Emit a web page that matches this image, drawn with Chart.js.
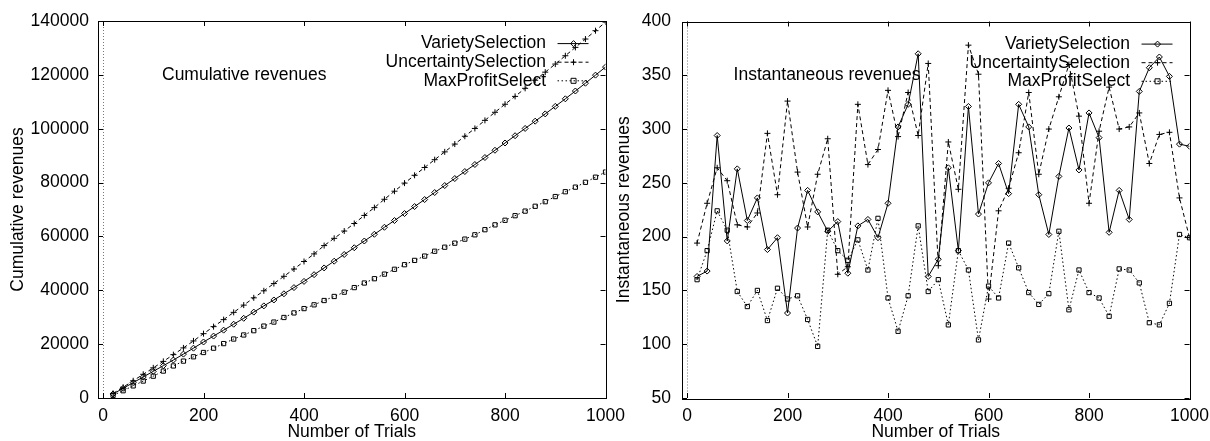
<!DOCTYPE html>
<html>
<head>
<meta charset="utf-8">
<script src="https://cdn.jsdelivr.net/npm/chart.js@4.4.0/dist/chart.umd.min.js"></script>
<style>
body { margin: 0; background: #fff; }
#wrap { position: relative; width: 1210px; height: 441px; overflow: hidden; }
#leftBox { position: absolute; left: 0; top: 0; width: 633px; height: 441px; }
#rightBox { position: absolute; left: 610px; top: 0; width: 607px; height: 441px; }
</style>
</head>
<body>
<div id="wrap">
  <div id="leftBox"><canvas id="leftChart" width="633" height="441"></canvas></div>
  <div id="rightBox"><canvas id="rightChart" width="607" height="441"></canvas></div>
</div>
<script>
// number of trials (x values of every point)
var trials = [20, 40, 60, 80, 100, 120, 140, 160, 180, 200,
              220, 240, 260, 280, 300, 320, 340, 360, 380, 400,
              420, 440, 460, 480, 500, 520, 540, 560, 580, 600,
              620, 640, 660, 680, 700, 720, 740, 760, 780, 800,
              820, 840, 860, 880, 900, 920, 940, 960, 980, 1000];

var trialTicks = [0, 200, 400, 600, 800, 1000];
var cumTicks = [0, 20000, 40000, 60000, 80000, 100000, 120000, 140000];
var instTicks = [50, 100, 150, 200, 250, 300, 350, 400];

var seriesNames = ['VarietySelection', 'UncertaintySelection', 'MaxProfitSelect'];

// cumulative revenues
var cumVariety = [1500, 3600, 5700, 7800, 9900, 12000, 14100, 16300, 18500, 20800,
                  23000, 25200, 27400, 29600, 31900, 34200, 36400, 38700, 41000, 43300,
                  45800, 48300, 50800, 53300, 55800, 58300, 60800, 63400, 65900, 68500,
                  71100, 73700, 76300, 78900, 81500, 84100, 86700, 89300, 92000, 94700,
                  97400, 100100, 102800, 105500, 108300, 111100, 114000, 116900, 119900, 122900];
var cumUncertainty = [1700, 4000, 6400, 8800, 11200, 13600, 16100, 18600, 21200, 23900,
                      26500, 29100, 31800, 34500, 37200, 39800, 42500, 45200, 47900, 50700,
                      53500, 56600, 59300, 62000, 64800, 67800, 70700, 73800, 76800, 79800,
                      82700, 85600, 88500, 91400, 94300, 97200, 100100, 103100, 106100, 109100,
                      112000, 115000, 118000, 121000, 124000, 127100, 130200, 133300, 136400, 139600];
var cumMaxProfit = [1000, 2700, 4500, 6300, 8100, 10000, 11900, 13700, 15300, 16900,
                    18500, 20200, 21900, 23400, 25000, 26700, 28200, 29900, 31600, 33200,
                    34600, 36200, 37700, 39300, 41000, 42700, 44300, 46000, 47800, 49500,
                    51100, 52700, 54500, 56000, 57500, 59000, 60600, 62500, 64300, 66000,
                    67700, 69400, 71200, 72900, 74800, 76600, 78300, 80100, 82000, 83900];

// instantaneous revenues
var instVariety = [163, 168, 294, 196, 263, 215, 236, 188, 199, 129,
                   208, 243, 223, 205, 214, 166, 210, 216, 199, 231,
                   302, 323, 370, 163, 179, 264, 187, 321, 221, 250,
                   268, 240, 323, 302, 239, 202, 256, 301, 262, 315,
                   292, 204, 243, 216, 335, 357, 367, 349, 286, 284];
var instUncertainty = [194, 231, 264, 252, 211, 209, 222, 296, 239, 326,
                       260, 209, 258, 291, 165, 172, 323, 267, 281, 336,
                       293, 334, 294, 361, 173, 288, 244, 378, 351, 142,
                       224, 245, 278, 334, 258, 300, 330, 360, 312, 231,
                       298, 339, 300, 302, 315, 268, 295, 297, 236, 199];
var instMaxProfit = [160, 187, 224, 206, 149, 135, 150, 122, 152, 142,
                     145, 123, 98, 206, 187, 178, 197, 169, 217, 143,
                     112, 145, 210, 149, 160, 118, 187, 169, 104, 154,
                     143, 194, 171, 148, 137, 147, 205, 132, 169, 148,
                     143, 126, 170, 169, 157, 120, 118, 138, 202, 199];

var fontFamily = '"Liberation Sans", Arial, Helvetica, sans-serif';
var baseFont = { family: fontFamily, size: 17.5 };
var styles = [
    { dash: [], point: 'rectRot' },
    { dash: [4, 3], point: 'cross' },
    { dash: [1.5, 2.5], point: 'rect' }
];

function toPoints(values) {
    return trials.map(function (t, i) { return { x: t, y: values[i] }; });
}

function makeDatasets(lists) {
    return lists.map(function (values, i) {
        return {
            label: seriesNames[i],
            data: toPoints(values),
            borderColor: '#000',
            borderWidth: 1,
            borderDash: styles[i].dash,
            pointStyle: styles[i].point,
            pointRadius: 3,
            pointBorderWidth: 1,
            pointBorderColor: '#000',
            pointBackgroundColor: 'rgba(0,0,0,0)',
            tension: 0
        };
    });
}

// draw a small gnuplot style marker for the key
function drawMarker(ctx, style, x, y) {
    ctx.save();
    ctx.setLineDash([]);
    ctx.beginPath();
    if (style == 'rectRot') {
        ctx.moveTo(x, y - 3); ctx.lineTo(x + 3, y); ctx.lineTo(x, y + 3); ctx.lineTo(x - 3, y); ctx.closePath();
    } else if (style == 'cross') {
        ctx.moveTo(x - 3, y); ctx.lineTo(x + 3, y); ctx.moveTo(x, y - 3); ctx.lineTo(x, y + 3);
    } else {
        ctx.rect(x - 2.5, y - 2.5, 5, 5);
    }
    ctx.stroke();
    ctx.restore();
}

// frame, inward ticks, zero axis, key and inner label
var gnuplotFrame = {
    id: 'gnuplotFrame',
    afterDatasetsDraw: function (chart, args, opts) {
        var ctx = chart.ctx;
        var a = chart.chartArea;
        var xs = chart.scales.x, ys = chart.scales.y;
        ctx.save();
        ctx.strokeStyle = '#000';
        ctx.lineWidth = 1;

        // dotted zero axis
        ctx.save();
        ctx.strokeStyle = '#777';
        ctx.setLineDash([1, 2]);
        var zx = Math.round(xs.getPixelForValue(0)) + 0.5;
        ctx.beginPath(); ctx.moveTo(zx, a.top); ctx.lineTo(zx, a.bottom); ctx.stroke();
        ctx.restore();

        ctx.strokeRect(Math.round(a.left) + 0.5, Math.round(a.top) + 0.5,
                       Math.round(a.right - a.left), Math.round(a.bottom - a.top));
        ctx.beginPath();
        xs.ticks.forEach(function (t) {
            var px = Math.round(xs.getPixelForValue(t.value)) + 0.5;
            ctx.moveTo(px, a.bottom); ctx.lineTo(px, a.bottom - 5);
            ctx.moveTo(px, a.top); ctx.lineTo(px, a.top + 5);
        });
        ys.ticks.forEach(function (t) {
            var py = Math.round(ys.getPixelForValue(t.value)) + 0.5;
            ctx.moveTo(a.left, py); ctx.lineTo(a.left + 5, py);
            ctx.moveTo(a.right, py); ctx.lineTo(a.right - 5, py);
        });
        ctx.stroke();

        ctx.fillStyle = '#000';
        ctx.font = '17.5px ' + fontFamily;
        ctx.textBaseline = 'middle';

        // inner label
        ctx.textAlign = 'left';
        ctx.fillText(opts.label, a.left + opts.labelDx, a.top + 54);

        // key in the top right corner
        chart.data.datasets.forEach(function (ds, i) {
            var y = a.top + 22.6 + i * 18.6;
            ctx.textAlign = 'right';
            ctx.fillText(ds.label, a.right - 59.5, y);
            ctx.save();
            ctx.setLineDash(ds.borderDash);
            ctx.beginPath();
            ctx.moveTo(a.right - 48, y); ctx.lineTo(a.right - 17, y);
            ctx.stroke();
            ctx.restore();
            drawMarker(ctx, styles[i].point, a.right - 32, y);
        });
        ctx.restore();
    }
};

function makeOptions(yMin, yMax, yTickList, yTitle, yWidth, yPad, titlePad, label, labelDx) {
    return {
        responsive: false,
        animation: false,
        layout: { padding: { top: 21, right: 0, left: 0, bottom: 0 } },
        plugins: {
            legend: { display: false },
            tooltip: { enabled: false },
            gnuplotFrame: { label: label, labelDx: labelDx }
        },
        scales: {
            x: {
                type: 'linear', min: -10, max: 1000,
                afterBuildTicks: function (scale) {
                    scale.ticks = trialTicks.map(function (v) { return { value: v }; });
                },
                afterFit: function (scale) { scale.height = 43; },
                grid: { display: false, drawTicks: false },
                border: { display: false },
                ticks: { color: '#000', font: baseFont, padding: 8, maxRotation: 0, autoSkip: false,
                         callback: function (v) { return String(v); } },
                title: { display: true, text: 'Number of Trials', color: '#000',
                         font: { family: fontFamily, size: 17.5, lineHeight: 1 },
                         padding: { top: 0, bottom: 0 } }
            },
            y: {
                type: 'linear', min: yMin, max: yMax,
                afterBuildTicks: function (scale) {
                    scale.ticks = yTickList.map(function (v) { return { value: v }; });
                },
                afterFit: function (scale) { scale.width = yWidth; },
                grid: { display: false, drawTicks: false },
                border: { display: false },
                ticks: { color: '#000', font: baseFont, padding: yPad,
                         callback: function (v) { return String(v); } },
                title: { display: true, text: yTitle, color: '#000', font: baseFont,
                         padding: { top: titlePad, bottom: 0 } }
            }
        }
    };
}

var leftChart = new Chart(document.getElementById('leftChart').getContext('2d'), {
    type: 'line',
    data: { datasets: makeDatasets([cumVariety, cumUncertainty, cumMaxProfit]) },
    options: makeOptions(0, 140000, cumTicks, 'Cumulative revenues', 98, 9, 8,
                         'Cumulative revenues', 64),
    plugins: [gnuplotFrame]
});

var rightChart = new Chart(document.getElementById('rightChart').getContext('2d'), {
    type: 'line',
    data: { datasets: makeDatasets([instVariety, instUncertainty, instMaxProfit]) },
    options: makeOptions(50, 400, instTicks, 'Instantaneous revenues', 72, 11, 4,
                         'Instantaneous revenues', 51.6),
    plugins: [gnuplotFrame]
});
</script>
</body>
</html>
